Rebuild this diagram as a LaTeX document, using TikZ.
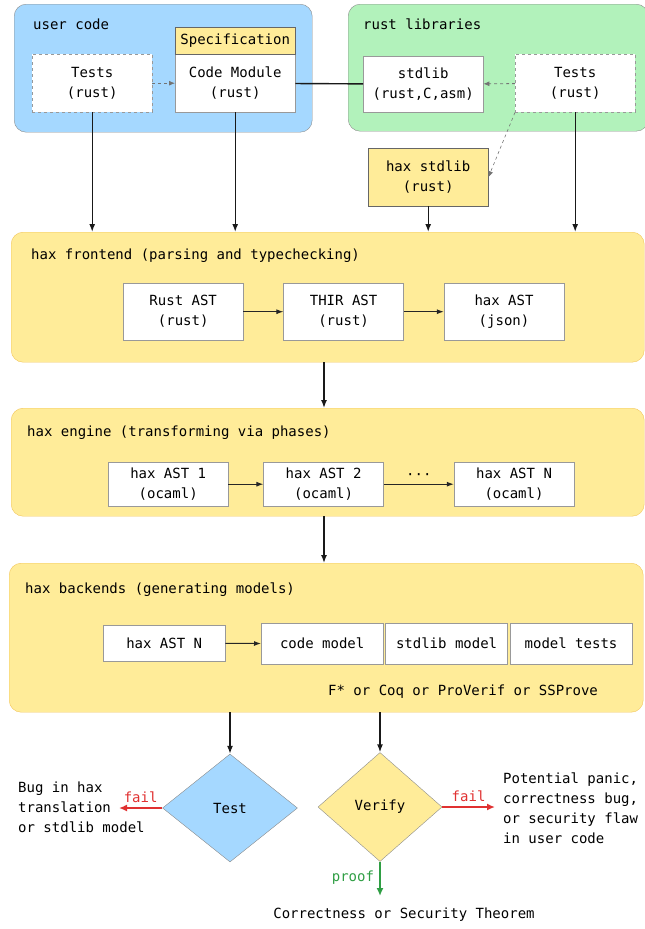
\documentclass[tikz,border=0pt]{standalone}
\usepackage{fontspec}
\setmonofont{DejaVu Sans Mono}
\usepackage{tikz}
\usetikzlibrary{positioning, shapes.geometric, arrows.meta}
\definecolor{codeblue}{HTML}{A5D8FF}
\definecolor{libgreen}{HTML}{B2F2BB}
\definecolor{haxyellow}{HTML}{FFEC99}
\definecolor{haxborder}{HTML}{F2C55C}
\definecolor{failred}{HTML}{E03131}
\definecolor{proofgreen}{HTML}{2F9E44}
\tikzset{node distance=40pt, % Gap between boxes in a row
every node/.style={font=\ttfamily\fontsize{14}{20}\selectfont},
group/.style={ % Large rounded areas
rounded corners=12pt, draw=black!45, anchor=north west, inner sep=0pt},
grouplabel/.style={anchor=base west, inner sep=0pt},
codebox/.style={ % White boxes
draw=black!40, fill=white, minimum width=120pt, minimum height=58pt,
align=center, inner sep=2pt},
testbox/.style={codebox, dashed},
decision/.style={diamond, draw=black!45, inner sep=0pt},
note/.style={align=left, anchor=west, inner sep=0pt},
flow/.style={draw=black!90, -{Latex[length=8pt,width=6pt]}, line width=1.4pt},
hint/.style={draw=black!55, -{Latex[length=6pt,width=5pt]}, dashed, line width=0.8pt},
phase/.style={draw=black!85, -{Latex[length=7pt,width=5pt]}, line width=1pt},
fail/.style={draw=failred, -{Latex[length=8pt,width=7pt]}, line width=2pt},
}

\begin{document}
\begin{tikzpicture}[x=1pt, y=-1pt]
    \useasboundingbox (0,0) rectangle (645,929);

    % user code and rust libraries
    \node[group, fill=codeblue, minimum width=298pt, minimum height=128pt] (user) at (14,4) {};
    \node[grouplabel] (userlbl) at (33,29) {user code};
    \node[group, fill=libgreen, minimum width=300pt, minimum height=127pt] (libs) at (348,4) {};
    \node[grouplabel] (libslbl) at (363,29) {rust libraries};

    \node[testbox, anchor=north west] (tests) at (32,54) {Tests\\(rust)};
    \node[codebox, anchor=north west] (module) at (175,54) {Code Module\\(rust)};
    \node[codebox, fill=haxyellow, draw=black!60, minimum height=27pt, anchor=south] (spec) at (module.north) {Specification};
    \node[codebox, anchor=north west, minimum height=56pt] (stdlib) at (363,56) {stdlib\\(rust,C,asm)};
    \node[testbox, anchor=north west] (libtests) at (515,54) {Tests\\(rust)};
    \node[codebox, fill=haxyellow, draw=black!60, anchor=north west] (haxstd) at (368,148) {hax stdlib\\(rust)};

    \draw[hint] (tests) -- (module);
    \draw[draw=black!90, line width=1.4pt] (module) -- (stdlib);
    \draw[hint] (libtests) -- (stdlib);
    \draw[hint, line width=0.6pt] (libtests.south west) -- (haxstd.east);

    % hax frontend
    \node[group, fill=haxyellow, draw=haxborder, minimum width=633pt, minimum height=130pt] (frontend) at (11,232) {};
    \node[grouplabel] (frontlbl) at (31,259) {hax frontend (parsing and typechecking)};
    \node[codebox, anchor=north west, minimum height=57pt] (rustast) at (123,283) {Rust AST\\(rust)};
    \node[codebox, right=of rustast, minimum height=57pt] (thir) {THIR AST\\(rust)};
    \node[codebox, right=of thir, minimum height=57pt] (json) {hax AST\\(json)};
    \draw[phase] (rustast) -- (thir);
    \draw[phase] (thir) -- (json);

    \draw[flow] (tests.south) -- (tests.south |- frontend.north);
    \draw[flow] (module.south) -- (module.south |- frontend.north);
    \draw[flow] (haxstd.south) -- (haxstd.south |- frontend.north);
    \draw[flow] (libtests.south) -- (libtests.south |- frontend.north);

    % hax engine
    \node[group, fill=haxyellow, draw=haxborder, minimum width=633pt, minimum height=108pt] (engine) at (11,408) {};
    \node[grouplabel] (englbl) at (27,436) {hax engine (transforming via phases)};
    \node[codebox, anchor=north west, minimum height=44pt] (ast1) at (108,462) {hax AST 1\\(ocaml)};
    \node[codebox, right=35pt of ast1, minimum height=44pt] (ast2) {hax AST 2\\(ocaml)};
    \node[codebox, right=70pt of ast2, minimum height=44pt] (astn) {hax AST N\\(ocaml)};
    \draw[phase] (ast1) -- (ast2);
    \draw[phase] (ast2) -- node[above=4pt, inner sep=0pt] {···} (astn);

    \coordinate (spine) at (324,0);
    \draw[flow] (frontend.south -| spine) -- (engine.north -| spine);

    % hax backends
    \node[group, fill=haxyellow, draw=haxborder, minimum width=634pt, minimum height=149pt] (backends) at (9,563) {};
    \node[grouplabel] (backlbl) at (25,593) {hax backends (generating models)};
    \node[codebox, anchor=north west, minimum width=122pt, minimum height=36pt] (backast) at (103,625) {hax AST N};
    \node[codebox, anchor=north west, minimum width=122pt, minimum height=41pt] (codemodel) at (261,623) {code model};
    \node[codebox, right=2pt of codemodel, minimum width=122pt, minimum height=41pt] (stdmodel) {stdlib model};
    \node[codebox, right=2pt of stdmodel, minimum width=122pt, minimum height=41pt] (modeltests) {model tests};
    \node[anchor=base west, inner sep=0pt] (provers) at (328,695) {F* or Coq or ProVerif or SSProve};
    \draw[phase] (backast) -- (codemodel);

    \draw[flow] (engine.south -| spine) -- (backends.north -| spine);

    % testing and verification
    \node[decision, fill=codeblue, minimum width=135pt, minimum height=108pt] (test) at (230,808) {Test};
    \node[decision, fill=haxyellow, minimum width=124pt, minimum height=109pt] (verify) at (380,807) {Verify};
    \draw[flow] (backends.south -| test.north) -- (test.north);
    \draw[flow] (backends.south -| verify.north) -- (verify.north);

    \node[note] (bug) at (18,807) {Bug in hax\\translation\\or stdlib model};
    \node[note] (panic) at (503,808) {Potential panic,\\correctness bug,\\or security flaw\\in user code};
    \node[inner sep=0pt] (theorem) at (404,915) {Correctness or Security Theorem};

    \coordinate (bugend) at (119,808);
    \coordinate (panicend) at (495,807);
    \coordinate (proofend) at (380,896);
    \draw[fail] (test.west) -- node[above=4pt, inner sep=0pt, text=failred] {fail} (bugend);
    \draw[fail] (verify.east) -- node[above=4pt, inner sep=0pt, text=failred] {fail} (panicend);
    \draw[fail, draw=proofgreen] (verify.south) -- node[left=5pt, inner sep=0pt, pos=0.45, text=proofgreen] {proof} (proofend);

    \end{tikzpicture}
\end{document}
